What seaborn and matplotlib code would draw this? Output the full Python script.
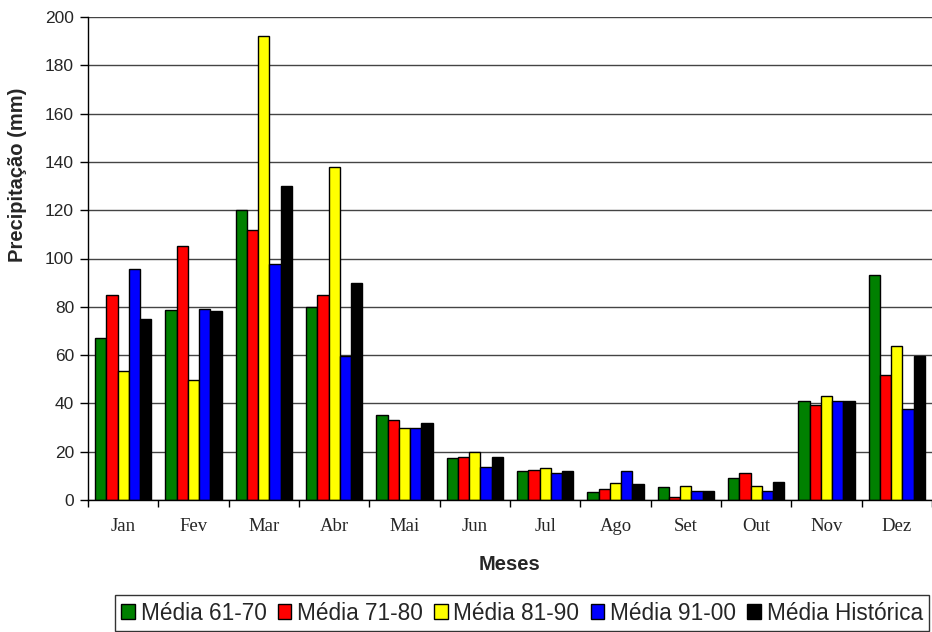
import matplotlib
matplotlib.use("Agg")
import matplotlib.pyplot as plt
import seaborn as sns
import pandas as pd
from matplotlib.ticker import MultipleLocator, FixedLocator

meses = ["Jan", "Fev", "Mar", "Abr", "Mai", "Jun", "Jul", "Ago", "Set", "Out", "Nov", "Dez"]
media_61_70 = [67, 78.5, 120, 80, 35, 17.2, 12, 3.3, 5.2, 9.2, 41, 93]
media_71_80 = [85, 105, 112, 85, 33, 17.8, 12.6, 4.7, 1.2, 11.2, 39.2, 51.6]
media_81_90 = [53.5, 49.7, 192, 138, 29.7, 19.8, 13.1, 7.2, 5.9, 5.9, 43.1, 63.8]
media_91_00 = [95.6, 79, 97.6, 59.7, 29.7, 13.8, 11.2, 12, 3.9, 3.9, 41, 37.8]
media_historica = [75, 78.4, 130, 89.7, 31.7, 17.9, 12.1, 6.8, 3.9, 7.5, 41.2, 59.7]

series = {
    "Média 61-70": media_61_70,
    "Média 71-80": media_71_80,
    "Média 81-90": media_81_90,
    "Média 91-00": media_91_00,
    "Média Histórica": media_historica,
}
cores = ["#008000", "#FF0000", "#FFFF00", "#0000FF", "#000000"]

df = pd.DataFrame(
    [(m, nome, v) for nome, vals in series.items() for m, v in zip(meses, vals)],
    columns=["Mês", "Série", "Precipitação"],
)

sns.set_theme(style="white")
plt.rcParams["font.family"] = ["Liberation Sans", "DejaVu Sans"]

fig = plt.figure(figsize=(9.32, 6.32), dpi=100)
ax = fig.add_axes([88 / 932, 1 - 500 / 632, 844 / 932, 483 / 632])

sns.barplot(
    data=df, x="Mês", y="Precipitação", hue="Série",
    order=meses, hue_order=list(series.keys()), palette=cores,
    width=0.8, edgecolor="black", linewidth=1.0, saturation=1,
    ax=ax, legend=True,
)

ax.set_ylim(0, 200)
ax.set_xlim(-0.5, 11.5)
ax.yaxis.set_major_locator(MultipleLocator(20))
ax.grid(axis="y", color="#444444", linewidth=1.0)
ax.set_axisbelow(True)
for s in ["top", "right"]:
    ax.spines[s].set_visible(False)
for s in ["left", "bottom"]:
    ax.spines[s].set_color("black")
    ax.spines[s].set_linewidth(1.0)

ax.tick_params(axis="y", which="major", direction="out", length=6, width=1,
               color="black", labelsize=12.5, left=True, pad=4)
ax.set_xticks(range(12))
ax.set_xticklabels(meses, fontfamily="Liberation Serif", fontsize=13.5)
ax.tick_params(axis="x", which="major", length=0, pad=13)
ax.xaxis.set_minor_locator(FixedLocator([i + 0.5 for i in range(-1, 12)]))
ax.tick_params(axis="x", which="minor", direction="out", length=5, width=1,
               color="black", bottom=True)

ax.set_xlabel("Meses", fontsize=14.5, fontweight="bold", labelpad=14)
ax.set_ylabel("Precipitação (mm)", fontsize=14.5, fontweight="bold")
# y label sits in the upper part of the axis
ax.yaxis.set_label_coords(-61 / 844, 325 / 483)

handles, labels = ax.get_legend_handles_labels()
ax.get_legend().remove()
leg = fig.legend(
    handles, labels, loc="center", bbox_to_anchor=(522 / 932, 1 - 613 / 632),
    ncol=5, fontsize=16.3, frameon=True, fancybox=False, edgecolor="black",
    handlelength=0.6, handleheight=0.6, handletextpad=0.25,
    columnspacing=0.5, borderpad=0.3, borderaxespad=0,
)
leg.get_frame().set_linewidth(1.0)

fig.savefig("out.png", dpi=100, facecolor="white")
